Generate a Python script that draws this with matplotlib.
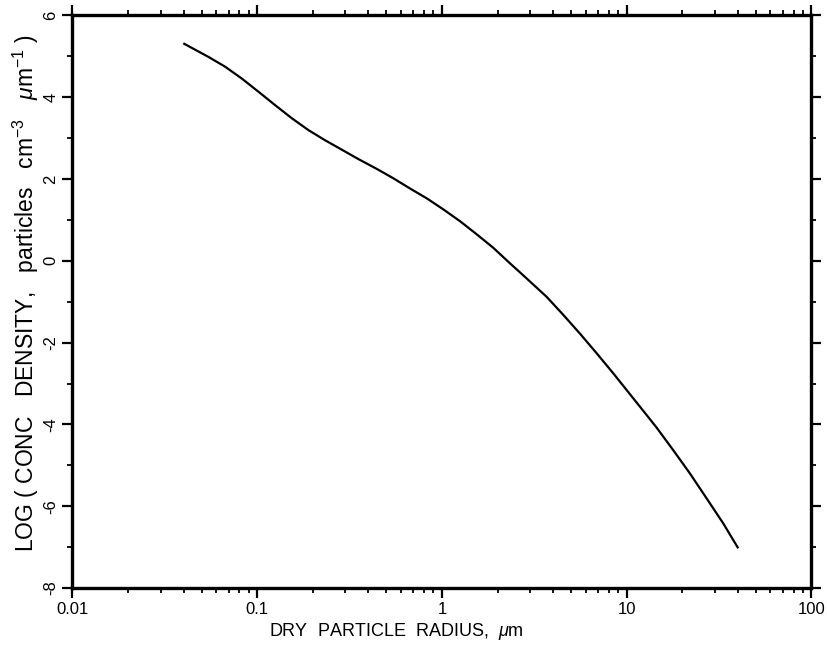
import matplotlib
matplotlib.use("Agg")
import matplotlib.pyplot as plt
from matplotlib.ticker import LogLocator, FixedLocator, NullFormatter

# Data
radius_um = [0.0398, 0.0543, 0.0669, 0.0824, 0.1013, 0.1248, 0.1536, 0.1889,
             0.2327, 0.2865, 0.3524, 0.4431, 0.5451, 0.6711, 0.8264, 1.016,
             1.252, 1.541, 1.895, 2.334, 2.873, 3.687, 4.535, 5.585, 6.878,
             8.457, 10.41, 13.08, 14.53, 17.86, 22.00, 27.09, 33.31, 40.16]
log_conc = [5.32, 4.99, 4.75, 4.46, 4.14, 3.81, 3.49, 3.20,
            2.95, 2.72, 2.49, 2.25, 2.02, 1.77, 1.53, 1.26,
            0.97, 0.65, 0.32, -0.06, -0.43, -0.88, -1.32, -1.78, -2.26,
            -2.75, -3.26, -3.82, -4.08, -4.63, -5.20, -5.81, -6.42, -7.03]

x_ticks = [0.01, 0.1, 1, 10, 100]
x_tick_labels = ["0.01", "0.1", "1", "10", "100"]
y_ticks = [-8, -6, -4, -2, 0, 2, 4, 6]
y_minor = [-7, -5, -3, -1, 1, 3, 5]

plt.rcParams['font.family'] = ['Liberation Sans', 'DejaVu Sans']
plt.rcParams['mathtext.fontset'] = 'custom'
plt.rcParams['mathtext.rm'] = 'Liberation Sans'
plt.rcParams['mathtext.it'] = 'Liberation Sans:italic'

fig = plt.figure(figsize=(8.28, 6.5), dpi=100)
ax = fig.add_axes([0.0875, 0.0954, 0.8925, 0.8808])

ax.plot(radius_um, log_conc, color='black', lw=1.6, solid_capstyle='butt',
        solid_joinstyle='round')

ax.set_xscale('log')
ax.set_xlim(0.01, 100)
ax.set_ylim(-8, 6)
ax.set_xticks(x_ticks)
ax.set_xticklabels(x_tick_labels)
ax.xaxis.set_minor_locator(LogLocator(base=10, subs=range(2, 10)))
ax.xaxis.set_minor_formatter(NullFormatter())
ax.set_yticks(y_ticks)
ax.set_yticklabels([str(v) for v in y_ticks], rotation=90, va='center')
ax.yaxis.set_minor_locator(FixedLocator(y_minor))

for s in ax.spines.values():
    s.set_linewidth(2.4)

ax.tick_params(which='major', direction='out', length=7, width=1.6,
               top=True, right=True, labelsize=12, pad=3)
ax.tick_params(which='minor', direction='out', length=3.5, width=1.3,
               top=True, right=True)

ax.set_xlabel(r"DRY  PARTICLE  RADIUS,  $\mu$m", fontsize=13)
ax.xaxis.set_label_coords(0.438, -0.058)
ax.set_ylabel(r"LOG ( CONC   DENSITY,   particles   cm$^{-3}$   $\mu$m$^{-1}$ )",
              fontsize=16.5)
ax.yaxis.set_label_coords(-0.042, 0.515)

fig.savefig("out.png", dpi=100)
